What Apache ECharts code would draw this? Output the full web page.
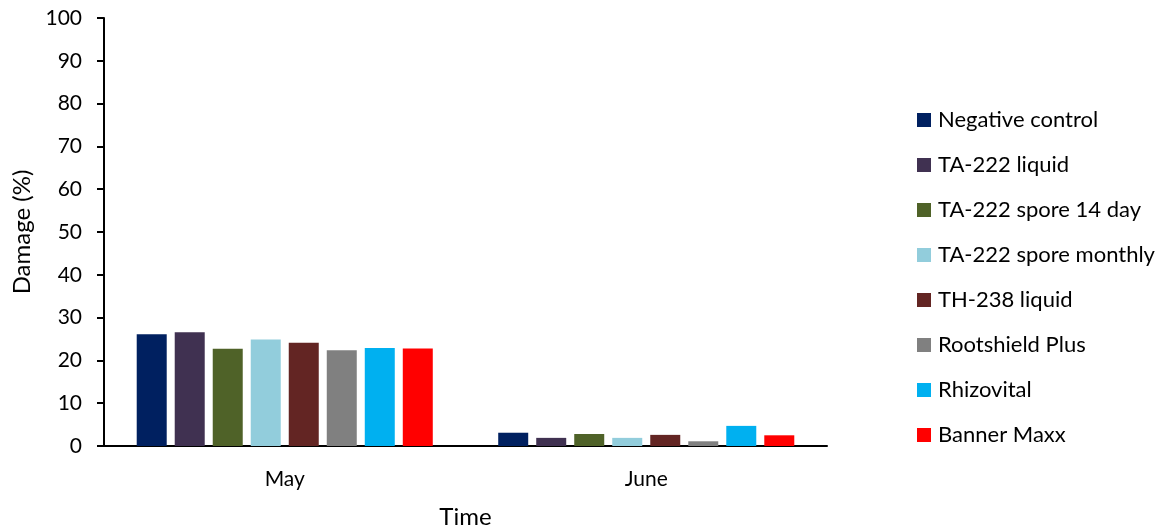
<!DOCTYPE html>
<html>
<head>
<meta charset="utf-8">
<script src="https://cdn.jsdelivr.net/npm/echarts@6/dist/echarts.min.js"></script>
<style>
  html, body { margin: 0; padding: 0; background: #fff; overflow: hidden; }
  #chart { position: absolute; left: 0; top: 0; width: 1159px; height: 529px; }
</style>
</head>
<body>
<div id="chart"></div>
<script>
// Sampling months
const months = ['May', 'June'];

// Treatments and their bar colours
const treatments = [
  'Negative control',
  'TA-222 liquid',
  'TA-222 spore 14 day',
  'TA-222 spore monthly',
  'TH-238 liquid',
  'Rootshield Plus',
  'Rhizovital',
  'Banner Maxx'
];
const colors = ['#002060', '#403151', '#4F6228', '#92CDDC', '#632523', '#808080', '#00B0F0', '#FF0000'];

// Damage (%) per treatment, [May, June]
const negativeControl = [26.1, 3.1];
const ta222Liquid = [26.6, 1.9];
const ta222Spore14 = [22.7, 2.8];
const ta222SporeMonthly = [24.9, 1.9];
const th238Liquid = [24.1, 2.6];
const rootshieldPlus = [22.4, 1.1];
const rhizovital = [22.9, 4.7];
const bannerMaxx = [22.8, 2.5];

const values = [negativeControl, ta222Liquid, ta222Spore14, ta222SporeMonthly,
                th238Liquid, rootshieldPlus, rhizovital, bannerMaxx];

// Y axis ticks
const yMin = 0, yMax = 100, yStep = 10;

const font = 'Lato, "Open Sans", sans-serif';

const chart = echarts.init(document.getElementById('chart'), null, { renderer: 'canvas', width: 1159, height: 529 });

chart.setOption({
  animation: false,
  backgroundColor: '#ffffff',
  grid: {
    left: 104, top: 18, width: 723, height: 428,
    containLabel: false,
    outerBoundsMode: 'none'
  },
  legend: {
    orient: 'vertical',
    left: 917,
    top: 109,
    padding: 0,
    itemWidth: 14,
    itemHeight: 14,
    itemGap: 23,
    icon: 'rect',
    textStyle: { fontFamily: font, fontSize: 22, color: '#000', padding: [0, 0, 0, 2] },
    data: treatments
  },
  xAxis: {
    type: 'category',
    data: months,
    name: 'Time',
    nameLocation: 'middle',
    nameGap: 59,
    nameTextStyle: { fontFamily: font, fontSize: 24, color: '#000' },
    axisLine: { lineStyle: { color: '#000', width: 2 } },
    axisTick: { show: false },
    axisLabel: { fontFamily: font, fontSize: 21, color: '#000', margin: 23 }
  },
  yAxis: {
    type: 'value',
    min: yMin,
    max: yMax,
    interval: yStep,
    name: 'Damage (%)',
    nameLocation: 'middle',
    nameGap: 70,
    nameTextStyle: { fontFamily: font, fontSize: 24, color: '#000' },
    axisLine: { show: true, lineStyle: { color: '#000', width: 2 } },
    axisTick: { show: true, length: 7, lineStyle: { color: '#000', width: 2 } },
    splitLine: { show: false },
    axisLabel: { fontFamily: font, fontSize: 21, color: '#000', margin: 22 }
  },
  series: treatments.map((name, i) => ({
    name: name,
    type: 'bar',
    data: values[i],
    barWidth: 30,
    barGap: '26.7%',
    itemStyle: { color: colors[i] }
  }))
});
</script>
</body>
</html>
